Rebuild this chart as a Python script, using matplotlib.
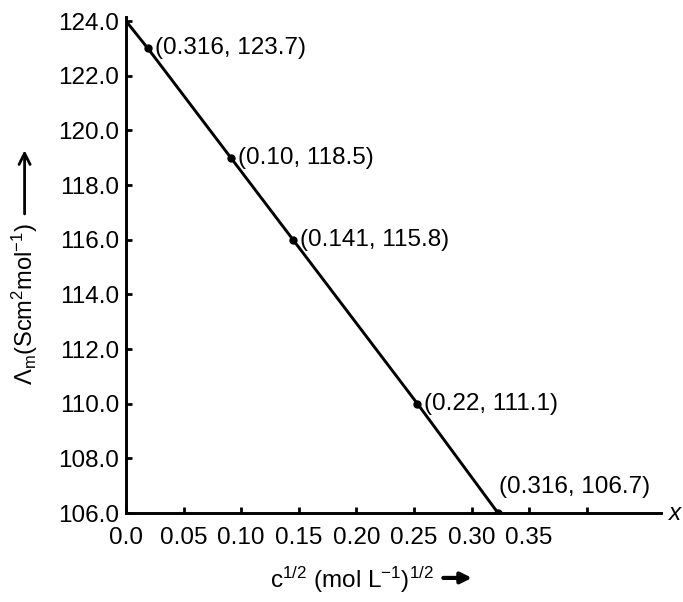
import numpy as np
import matplotlib.pyplot as plt

plt.rcParams['font.family'] = ['Liberation Sans', 'DejaVu Sans']
plt.rcParams['mathtext.fontset'] = 'custom'
plt.rcParams['mathtext.rm'] = 'Liberation Sans'
plt.rcParams['mathtext.it'] = 'Liberation Sans:italic'

# points as they sit on the plotted line (labels are the printed values)
sqrt_c = [0.0, 0.019, 0.091, 0.145, 0.253, 0.323]
molar_cond = [124.0, 123.0, 119.0, 116.0, 110.0, 106.0]
point_labels = ['', '(0.316, 123.7)', '(0.10, 118.5)', '(0.141, 115.8)',
                '(0.22, 111.1)', '(0.316, 106.7)']

x_ticks = [0.0, 0.05, 0.10, 0.15, 0.20, 0.25, 0.30, 0.35, 0.40]
x_tick_labels = ['0.0', '0.05', '0.10', '0.15', '0.20', '0.25', '0.30', '0.35', '']
y_ticks = [106.0, 108.0, 110.0, 112.0, 114.0, 116.0, 118.0, 120.0, 122.0, 124.0]

fs = 17.5

fig = plt.figure(figsize=(6.83, 6.02), dpi=100)
ax = fig.add_axes([0.1845, 0.1478, 0.7833, 0.824])

ax.plot(sqrt_c, molar_cond, color='black', lw=2.1, solid_capstyle='butt')
ax.plot(sqrt_c[1:], molar_cond[1:], 'o', color='black', ms=5)

# annotations
for xv, yv, lab in zip(sqrt_c[1:5], molar_cond[1:5], point_labels[1:5]):
    ax.annotate(lab, (xv, yv), xytext=(5, 0), textcoords='offset points',
                ha='left', va='center', fontsize=fs)
ax.annotate(point_labels[5], (sqrt_c[5], molar_cond[5]), xytext=(1, 11),
            textcoords='offset points', ha='left', va='bottom', fontsize=fs)

ax.set_xlim(0, 0.4645)
ax.set_ylim(106, 124.15)
ax.set_xticks(x_ticks)
ax.set_xticklabels(x_tick_labels)
ax.set_yticks(y_ticks)
ax.set_yticklabels(['%.1f' % v for v in y_ticks])
ax.tick_params(direction='in', length=4, width=2, labelsize=fs)
ax.tick_params(axis='x', pad=10)
ax.tick_params(axis='y', pad=5)

for side in ['top', 'right']:
    ax.spines[side].set_visible(False)
for side in ['left', 'bottom']:
    ax.spines[side].set_linewidth(2.1)

# axis labels with arrows
fig.text(0.036, 0.495, r'$\mathit{\Lambda}_{\rm m}$(Scm$^2$mol$^{-1}$)',
         rotation=90, ha='center', va='center', fontsize=17)
ax.annotate('', xy=(0.036, 0.755), xytext=(0.036, 0.640),
            xycoords='figure fraction', textcoords='figure fraction',
            arrowprops=dict(arrowstyle='->', lw=2, mutation_scale=20, color='black'))

fig.text(0.396, 0.037, r'c$^{1/2}$ (mol L$^{-1}$)$^{1/2}$',
         ha='left', va='center', fontsize=fs)
ax.annotate('', xy=(0.695, 0.040), xytext=(0.645, 0.040),
            xycoords='figure fraction', textcoords='figure fraction',
            arrowprops=dict(arrowstyle='-|>', lw=3, mutation_scale=16, color='black'))

fig.text(0.988, 1 - 513 / 602, 'x', style='italic', ha='center', va='center',
         fontsize=fs)

fig.savefig('out.png', dpi=100, facecolor='white')
